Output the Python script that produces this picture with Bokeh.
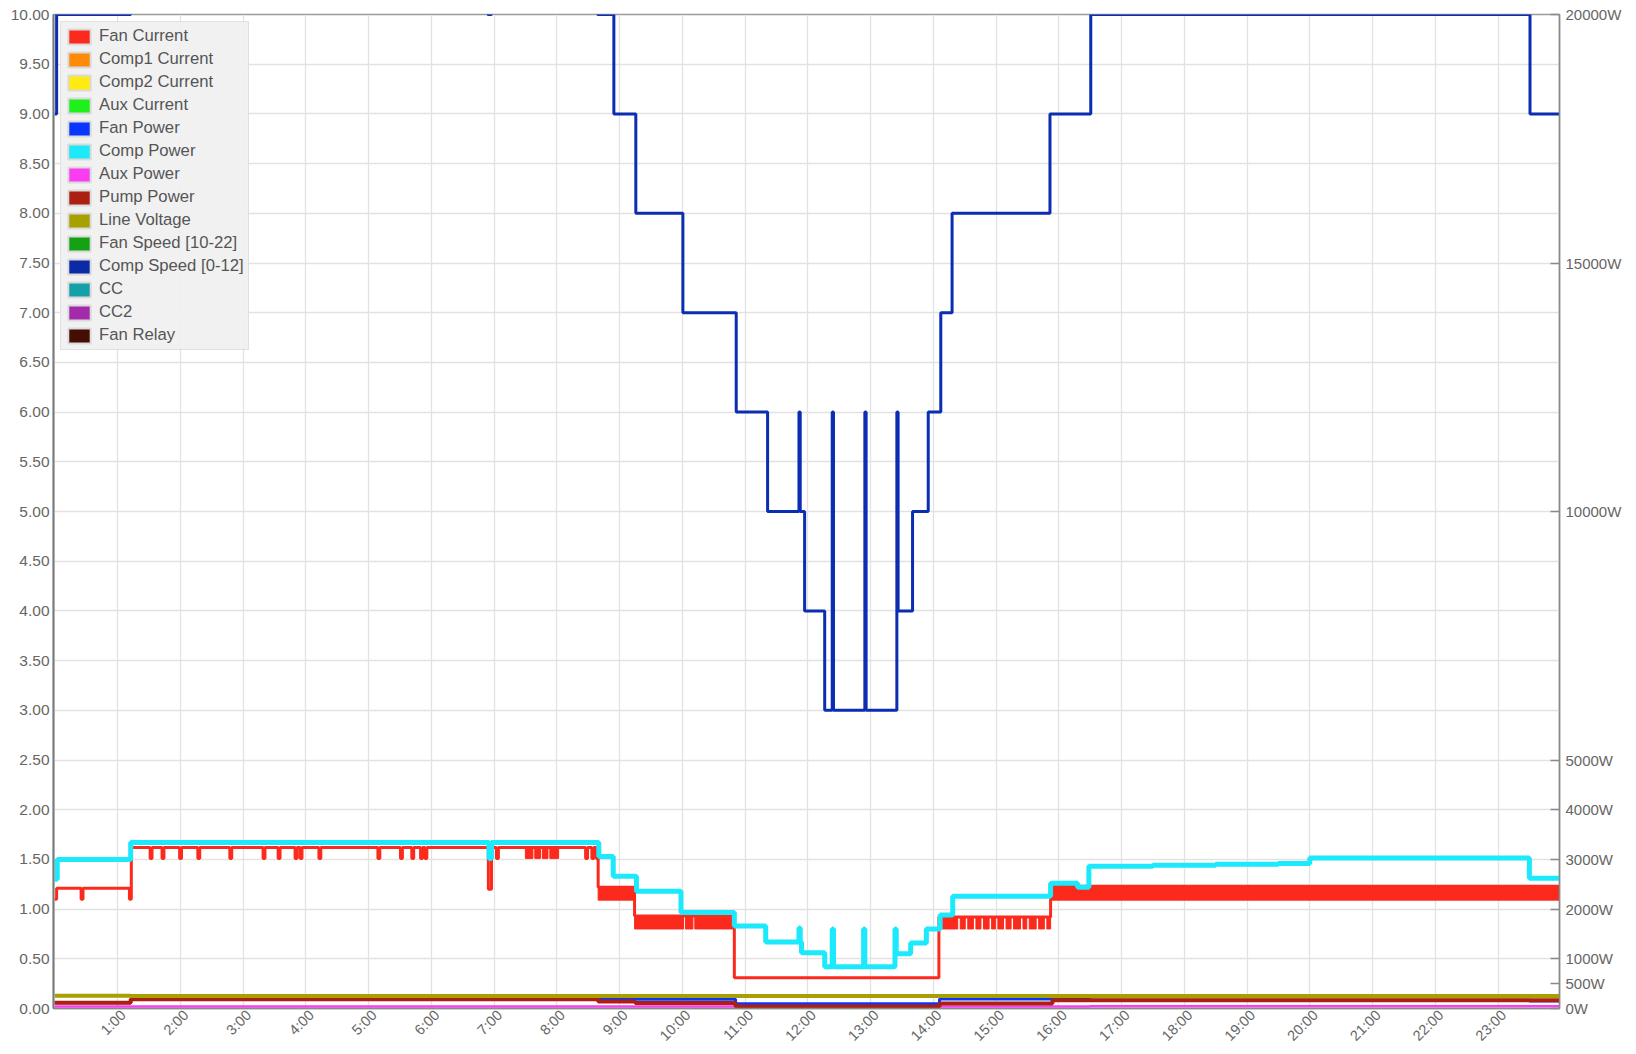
import math
from bokeh.plotting import figure
from bokeh.models import Range1d, LinearAxis, FixedTicker, Legend, LegendItem
from bokeh.embed import file_html
from bokeh.resources import INLINE

# ---------------- data ----------------
hour_ticks = [1, 2, 3, 4, 5, 6, 7, 8, 9, 10, 11, 12, 13, 14, 15, 16, 17, 18, 19, 20, 21, 22, 23]
hour_tick_labels = ["1:00", "2:00", "3:00", "4:00", "5:00", "6:00", "7:00", "8:00", "9:00", "10:00",
                    "11:00", "12:00", "13:00", "14:00", "15:00", "16:00", "17:00", "18:00", "19:00",
                    "20:00", "21:00", "22:00", "23:00"]
left_ticks = [0.0, 0.5, 1.0, 1.5, 2.0, 2.5, 3.0, 3.5, 4.0, 4.5, 5.0, 5.5, 6.0, 6.5, 7.0, 7.5, 8.0, 8.5, 9.0, 9.5, 10.0]
left_tick_labels = ["0.00", "0.50", "1.00", "1.50", "2.00", "2.50", "3.00", "3.50", "4.00", "4.50", "5.00",
                    "5.50", "6.00", "6.50", "7.00", "7.50", "8.00", "8.50", "9.00", "9.50", "10.00"]
power_ticks = [0, 500, 1000, 2000, 3000, 4000, 5000, 10000, 15000, 20000]
power_tick_labels = ["0W", "500W", "1000W", "2000W", "3000W", "4000W", "5000W", "10000W", "15000W", "20000W"]

series_names = ["Fan Current", "Comp1 Current", "Comp2 Current", "Aux Current", "Fan Power", "Comp Power",
                "Aux Power", "Pump Power", "Line Voltage", "Fan Speed [10-22]", "Comp Speed [0-12]", "CC",
                "CC2", "Fan Relay"]
series_colors = ["#fb2a1c", "#ff8a0a", "#ffea12", "#1ef01e", "#0a34ff", "#1ce9fb", "#fb3cf2", "#ad1f10",
                 "#a89f00", "#14a214", "#0b2ba6", "#14a0a8", "#a42aac", "#460d05"]

# Fan current (A, left axis) - step line
fan_current_time = [0.00, 0.03, 0.42, 0.45, 1.19, 1.22,
                    1.52, 1.55, 1.71, 1.74, 1.99, 2.02, 2.28, 2.31, 2.79, 2.82, 3.32, 3.35,
                    3.56, 3.59, 3.83, 3.86, 3.91, 3.94, 4.21, 4.24, 5.15, 5.18, 5.51, 5.54,
                    5.69, 5.72, 5.83, 5.86, 5.90, 5.93, 6.91, 6.96, 7.04, 7.07, 8.46, 8.49,
                    8.56, 8.59, 8.63, 8.66, 9.24, 10.83, 14.09, 15.87, 23.98]
fan_current_amps = [1.10, 1.21, 1.10, 1.21, 1.10, 1.62,
                    1.51, 1.62, 1.51, 1.62, 1.51, 1.62, 1.51, 1.62, 1.51, 1.62, 1.51, 1.62,
                    1.51, 1.62, 1.51, 1.62, 1.51, 1.62, 1.51, 1.62, 1.51, 1.62, 1.51, 1.62,
                    1.51, 1.62, 1.51, 1.62, 1.51, 1.62, 1.20, 1.62, 1.51, 1.62, 1.51, 1.62,
                    1.51, 1.62, 1.51, 1.22, 0.93, 0.31, 0.92, 1.23, 1.23]
# Fan current - fast oscillation bands
fan_band_start = [7.50, 7.65, 7.77, 7.89, 8.66, 9.24, 10.05, 10.20,
                  14.09, 14.43, 14.55, 14.68, 14.80, 14.93, 15.03, 15.16, 15.28, 15.43, 15.53, 15.68, 15.81,
                  15.87]
fan_band_end = [7.62, 7.74, 7.86, 8.03, 9.24, 10.02, 10.17, 10.83,
                14.39, 14.51, 14.64, 14.76, 14.89, 14.99, 15.12, 15.24, 15.39, 15.49, 15.64, 15.77, 15.87,
                23.98]
fan_band_low = [1.51, 1.51, 1.51, 1.51, 1.09, 0.80, 0.80, 0.80,
                0.80, 0.80, 0.80, 0.80, 0.80, 0.80, 0.80, 0.80, 0.80, 0.80, 0.80, 0.80, 0.80,
                1.09]
fan_band_high = [1.62, 1.62, 1.62, 1.62, 1.22, 0.93, 0.93, 0.93,
                 0.92, 0.92, 0.92, 0.92, 0.92, 0.92, 0.92, 0.92, 0.92, 0.92, 0.92, 0.92, 0.92,
                 1.23]

# Comp power (W, right axis)
comp_power_time = [0.00, 0.04, 1.21, 6.92, 6.96, 8.67, 8.90, 9.27, 9.98, 10.83, 11.33, 11.86, 11.88,
                   11.90, 12.27, 12.39, 12.41, 12.89, 12.91, 13.39, 13.41, 13.64, 13.89, 14.11, 14.31,
                   15.87, 16.30, 16.48, 17.50, 18.50, 19.50, 20.00, 23.50, 23.98]
comp_power_watts = [2600, 3000, 3340, 3020, 3340, 3060, 2660, 2360, 1930, 1660, 1340, 1620, 1340,
                    1120, 840, 1600, 840, 1600, 840, 1600, 1100, 1320, 1600, 1880, 2260,
                    2520, 2440, 2860, 2880, 2900, 2920, 3030, 2620, 2620]

# Comp speed (left axis)
comp_speed_time = [0.00, 0.03, 1.21, 6.90, 6.96, 8.65, 8.91, 9.26, 10.01, 10.86, 11.36, 11.86, 11.88,
                   11.95, 12.27, 12.39, 12.41, 12.91, 12.93, 13.42, 13.44, 13.67, 13.92, 14.12, 14.30,
                   15.86, 16.51, 23.51, 23.98]
comp_speed_value = [9, 10, 11, 10, 11, 10, 9, 8, 7, 6, 5, 6, 5,
                    4, 3, 6, 3, 6, 3, 6, 4, 5, 6, 7, 8,
                    9, 10, 9, 9]

# Small loads (W, right axis)
fan_power_time = [0.00, 1.21, 8.95, 10.85, 14.10, 16.50, 23.50, 23.98]
fan_power_watts = [115, 180, 185, 95, 190, 165, 150, 150]
pump_power_time = [0.00, 1.21, 8.66, 9.25, 10.85, 14.10, 15.90, 23.98]
pump_power_watts = [115, 185, 140, 110, 40, 100, 165, 165]
aux_power_time = [0.00, 11.36, 13.92, 16.50, 23.98]
aux_power_watts = [40, 0, 40, 45, 45]
# Line voltage (left axis, scaled)
line_voltage_time = [0.00, 1.21, 23.98]
line_voltage_value = [0.128, 0.125, 0.125]

# ---------------- figure ----------------
FONT = "Liberation Sans"
X_START, X_END = -0.02, 23.98
LABEL_SHIFT = 0.09   # hour labels sit a little to the right of their grid line
p = figure(width=1630, height=1052, x_range=Range1d(X_START, X_END), y_range=Range1d(0, 10),
           output_backend="svg", toolbar_location=None,
           min_border_left=53, min_border_right=71, min_border_top=14, min_border_bottom=43)
p.extra_y_ranges = {"power": Range1d(0, 20000)}
p.extra_x_ranges = {"hourlabels": Range1d(X_START - LABEL_SHIFT, X_END - LABEL_SHIFT)}
p.background_fill_color = "white"
p.border_fill_color = "white"
p.outline_line_color = "#9a9a9a"
p.outline_line_width = 1.5

p.xaxis[0].visible = False

xa = LinearAxis(x_range_name="hourlabels", ticker=FixedTicker(ticks=hour_ticks))
xa.major_label_overrides = dict(zip(hour_ticks, hour_tick_labels))
xa.major_label_orientation = math.pi / 4
xa.major_label_text_font = FONT
xa.major_label_text_font_size = "14.5px"
xa.major_label_text_color = "#666666"
xa.major_tick_in = 0
xa.major_tick_out = 0
xa.minor_tick_in = 0
xa.minor_tick_out = 0
xa.major_label_standoff = 4
xa.axis_line_color = "#8a8a8a"
xa.axis_line_width = 1.5
p.add_layout(xa, "below")

ya = p.yaxis[0]
ya.ticker = FixedTicker(ticks=left_ticks)
ya.major_label_overrides = dict(zip(left_ticks, left_tick_labels))
ya.major_label_text_font = FONT
ya.major_label_text_font_size = "15.5px"
ya.major_label_text_color = "#666666"
ya.major_tick_in = 0
ya.major_tick_out = 0
ya.minor_tick_in = 0
ya.minor_tick_out = 0
ya.major_label_standoff = 4
ya.axis_line_color = "#7a7a7a"
ya.axis_line_width = 2

ra = LinearAxis(y_range_name="power", ticker=FixedTicker(ticks=power_ticks))
ra.major_label_overrides = dict(zip(power_ticks, power_tick_labels))
ra.major_label_text_font = FONT
ra.major_label_text_font_size = "15px"
ra.major_label_text_color = "#666666"
ra.major_tick_in = 9
ra.major_tick_out = 0
ra.major_tick_line_color = "#8a8a8a"
ra.major_tick_line_width = 1.5
ra.minor_tick_in = 0
ra.minor_tick_out = 0
ra.major_label_standoff = 6
ra.axis_line_color = "#8a8a8a"
ra.axis_line_width = 1.5
p.add_layout(ra, "right")

p.xgrid.ticker = FixedTicker(ticks=hour_ticks)
p.ygrid.ticker = FixedTicker(ticks=left_ticks)
p.xgrid.grid_line_color = "#e2e2e2"
p.ygrid.grid_line_color = "#e2e2e2"
p.xgrid.grid_line_width = 1.3
p.ygrid.grid_line_width = 1.3

col = dict(zip(series_names, series_colors))

# Fan current
p.quad(left=fan_band_start, right=fan_band_end, bottom=fan_band_low, top=fan_band_high,
       fill_color=col["Fan Current"], line_color=col["Fan Current"], line_width=1)
p.step(x=fan_current_time, y=fan_current_amps, mode="after", line_color=col["Fan Current"], line_width=3)
# Fan power
p.step(x=fan_power_time, y=fan_power_watts, mode="after", y_range_name="power",
       line_color=col["Fan Power"], line_width=3)
# Comp power
p.step(x=comp_power_time, y=comp_power_watts, mode="after", y_range_name="power",
       line_color=col["Comp Power"], line_width=5)
# Aux power
p.step(x=aux_power_time, y=aux_power_watts, mode="after", y_range_name="power",
       line_color=col["Aux Power"], line_width=2.5)
# Pump power
p.step(x=pump_power_time, y=pump_power_watts, mode="after", y_range_name="power",
       line_color=col["Pump Power"], line_width=4)
# Line voltage
p.step(x=line_voltage_time, y=line_voltage_value, mode="after",
       line_color=col["Line Voltage"], line_width=4)
# Comp speed
p.step(x=comp_speed_time, y=comp_speed_value, mode="after",
       line_color="#0b2db2", line_width=3)

# Legend swatches (no visible mark: NaN coordinates, only the legend box shows them)
nan = float("nan")
items = []
for name, c in zip(series_names, series_colors):
    r = p.quad(left=[nan], right=[nan], top=[nan], bottom=[nan],
               fill_color=c, line_color="#dadada", line_width=2)
    items.append(LegendItem(label=name, renderers=[r]))

legend = Legend(items=items, location="top_left", margin=7, padding=4, spacing=3,
                label_height=18, glyph_height=19, glyph_width=28, label_standoff=6,
                label_text_font=FONT, label_text_font_size="16.7px", label_text_color="#555555",
                background_fill_color="#f0f0f0", background_fill_alpha=0.92,
                border_line_color="#cfcfcf", border_line_width=1.5)
p.add_layout(legend)

open("out.html", "w").write(file_html(p, INLINE))
